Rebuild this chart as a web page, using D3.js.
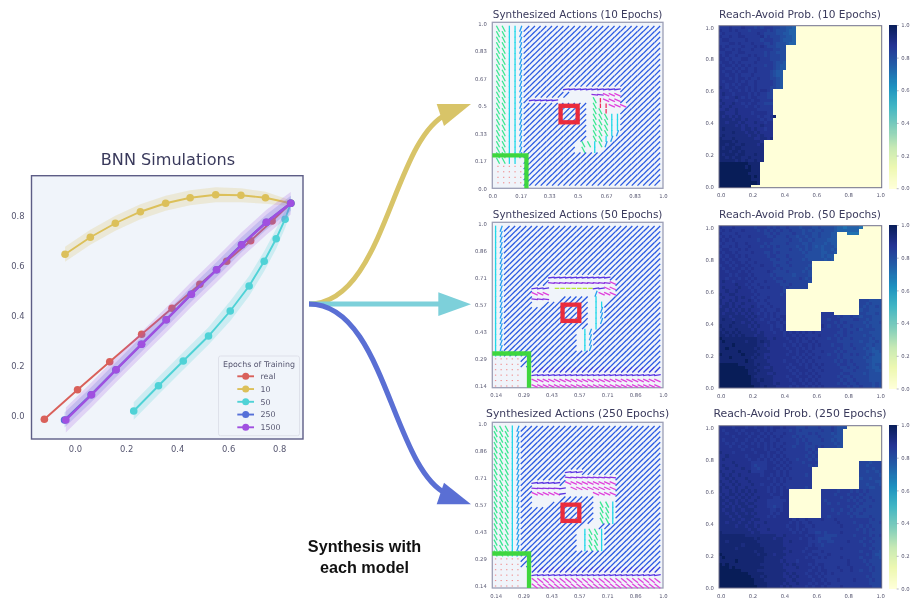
<!DOCTYPE html>
<html><head><meta charset="utf-8">
<script src="https://cdn.jsdelivr.net/npm/d3@7"></script>
<style>html,body{margin:0;padding:0;background:#fff}svg{display:block;filter:blur(0.35px)}text{font-family:"DejaVu Sans",sans-serif}</style>
</head><body><svg id="c" width="914" height="599"></svg>
<script>
// ---------- BNN simulations: x / y of each trajectory, half-width of its band
const simSeries = ["real","10","50","250","1500"];
const realX=[-0.12,0.01,0.136,0.261,0.38,0.489,0.594,0.688,0.772,0.845];
const realY=[-0.013,0.105,0.217,0.327,0.431,0.527,0.619,0.701,0.78,0.851];
const e10X=[-0.039,0.06,0.158,0.256,0.355,0.451,0.551,0.65,0.746,0.845];
const e10Y=[0.647,0.715,0.771,0.817,0.851,0.873,0.885,0.883,0.873,0.851];
const e10Band=[0.03,0.03,0.03,0.03,0.03,0.03,0.03,0.028,0.024,0.012];
const e50X=[0.23,0.327,0.424,0.523,0.608,0.682,0.741,0.788,0.823,0.845];
const e50Y=[0.02,0.121,0.22,0.32,0.42,0.52,0.619,0.709,0.787,0.851];
const e50Band=[0.035,0.035,0.035,0.035,0.04,0.04,0.04,0.04,0.035,0.03];
const e250X=[-0.041,0.063,0.16,0.26,0.357,0.455,0.554,0.652,0.749,0.845];
const e250Y=[-0.016,0.085,0.185,0.287,0.385,0.487,0.585,0.685,0.775,0.851];
const e250Band=[0.03,0.03,0.03,0.03,0.03,0.03,0.03,0.03,0.03,0.03];
const e1500X=[-0.036,0.065,0.161,0.261,0.358,0.456,0.555,0.653,0.75,0.845];
const e1500Y=[-0.016,0.085,0.185,0.287,0.385,0.487,0.585,0.685,0.775,0.851];
const e1500Band=[0.05,0.05,0.05,0.05,0.05,0.05,0.05,0.05,0.05,0.045];
const simXTicks=[0,0.2,0.4,0.6,0.8];
const simYTicks=[0,0.2,0.4,0.6,0.8];
const cbTicks=[0,0.2,0.4,0.6,0.8,1];
const heatTicks=[0,0.2,0.4,0.6,0.8,1];
const act10Ticks=["0.0","0.17","0.33","0.5","0.67","0.83","1.0"];
const actTicks=["0.14","0.29","0.43","0.57","0.71","0.86","1.0"];
const epochs=[10,50,250];

// ---------- Synthesized actions. Run-length rows, top to bottom; each letter is one action class.
const actions10=[
"2g2c1t24b","2g2c1t24b","2g2c1t24b","2g2c1t24b","2g2c1t24b","2g2c1t24b","2g2c1t24b","2g2c1t24b","2g2c1t24b","2g2c1t24b","2g2c1t24b",
"2g2c1t7b10p7b",
"2g2c1t8b4.2v3m7b",
"2g2c1t1b5p6.1g1r3m7b",
"2g2c1t11b1.1g2r3m6b",
"2g2c1t11b1.2g1r2.7b",
"2g2c1t11b1.3g2c7b",
"2g2c1t11b1.3g2c7b",
"2g2c1t11b1.3g2c7b",
"2g2c1t11b1.3g1c1t7b",
"2g2c1t11b1.2g1c1t8b",
"2g2c1t9b1.2g1c1g1t9b",
"2g2c1t9b1.1g1.1c1.10b",
"2g2c1t24b",
"2g2c1.24b",
"5d24b","5d24b","5d24b","5d24b"];
const actions50=[
"1c1t28b","1c1t28b","1c1t28b","1c1t28b","1c1t28b","1c1t28b","1c1t28b","1c1t28b","1c1t28b",
"1c1t8b11p9b",
"1c1t8b11v1m8b",
"1c1t5b3p1.7y2p2m8b",
"1c1t5b3m8.1t3m8b",
"1c1t5b3v2.5b1.1c2.9b",
"1c1t5b2.8b1.2c10b",
"1c1t15b1.1c1t10b",
"1c1t15b1.1c1t10b",
"1c1t15b1.1c1t10b",
"1c1t15b1.1c11b",
"1c1t13b1.1c1t12b",
"1c1t13b1.1c1t12b",
"1c1t13b1.1c1t12b",
"1c1t13b1.1c1t12b",
"1c1t28b",
"5d25b","5d25b",
"5d2.23B","5d2.23p","5d2.23m","5d2.23m"];
const actions250=[
"3g1c1t25b","3g1c1t25b","3g1c1t25b","3g1c1t25b","3g1c1t25b","3g1c1t25b","3g1c1t25b","3g1c1t25b",
"3g1c1t8b3p14b",
"3g1c1t8b9v8b",
"3g1c1t2b5p1b9m8b",
"3g1c1t2b5v1p1.8m8b",
"3g1c1t2b5m1p5.4m8b",
"3g1c1t2b5.6b4.8b",
"3g1c1t2b3.8b1.2g1c8b",
"3g1c1t13b1.2g1c8b",
"3g1c1t13b1.2g1c8b",
"3g1c1t13b1.2g1c8b",
"3g1c1t11b3.11b",
"3g1c1t10b1.1c2g1c10b",
"3g1c1t10b1.1c2g1c10b",
"3g1c1t10b1.1c2g1c10b",
"3g1c1t10b1.1c2g1c10b",
"3g1c1t25b",
"5d25b","5d25b",
"5d2.23B","5d2.23p","5d2.23n","5d2.23n"];
// Direction (degrees) of each action class.
const actionAngles={b:45,B:45,t:70,c:90,g:-62,p:8,v:-6,m:-24,n:-38,y:0,r:90,d:0};

// ---------- Reach-avoid probability. '.' = 0 (and short rows are 0 beyond their end);
// each digit is one level of reachLevels
const reachLevels=[0.70,0.74,0.77,0.80,0.83,0.86,0.89,0.92,0.95,1.0];
const reach10=[
"5556555655 5454555443 3221","6556565554 5555545433 3211","5655556555 5565444433 2211","6556556655 5556454443 3221","5665555565 5554555443 2221","5556656555 6555445433 3211",
"6565555655 5656544433 3","6655656555 6555555443 3","5566556655 5555454433 3","6565565556 5655454443 3","6656555665 5565554443 3","5665656555 5655555433 2","6566565656 5555455432 2","6655656565 5655555432 2",
"6566565665 5655554322","6656656555 6555554322","6665656656 5565554432","6566656565 5655555432","6656565665 5655555432","7656656656 5655554432",
"6665665656 5656654","6766566665 6565544","6656676565 6655544","7666656666 5665555","6766766565 6655444","7667666656 6565555","6676676666 6655555","7766676666 5666655",
"7676767666 66565568",
"7777677676 6665655","7767776766 6766566","7777767676 6667666","7877777677 6766566","7777877767 7676666","7877777776 7767666","8777877777 7667767",
"8888787777 7776","8878877877 7767","8788788777 7777","8887887877 7777","8788878877 7877","8878788778 7777","8888878787 7877",
"9999999998 888","9999999989 888","9999999999 888","9999999998 888","9999999999 898","9999999999 888","9999999999 998",
"9999999999"];
const reach50=[
"6555655555 5455545454 4544434443 3433332110 11110..... .",
"5656555655 5545454545 4454443434 3343332111 1111...... .",
"6555565555 5555445454 4445443443 3433322... 0000...... .",
"5656556556 5555544544 4544344343 3433322... .......... .",
"6565655555 5545555444 4454434434 3333222... .......... .",
"5655565565 5555454444 4544443343 3332322... .......... .",
"6556565556 5554545454 4444344343 2323332... .......... .",
"5665556565 5555555444 4454434343 3323323... .......... .",
"6566565555 6555445454 4444443433 3322332... .......... .",
"5656656565 5555545544 4544444333 332322.... .......... .",
"6565665556 5555554454 4454443433 333232.... .......... .",
"6656566565 5655555444 454444444. .......... .......... .",
"5665656656 5556555454 445444443. .......... .......... .",
"6566566565 6555555545 444444434. .......... .......... .",
"6656665656 5555565444 454444343. .......... .......... .",
"6665656665 6555554544 444344443. .......... .......... .",
"6656665656 5655555455 444445434. .......... .......... .",
"6766566665 6555655544 544444443. .......... .......... .",
"6666676656 5565555554 44544444.. .......... .......... .",
"6766667665 6556565555 45444444.. .......... .......... .",
"6676676666 5655555555 4......... .......... .......... .",
"7667766666 6565555554 5......... .......... .......... .",
"6766676766 5655565555 5......... .......... .......... .",
"7667676667 6565655555 5......... .......... ....444333 3",
"7676766766 6655565555 5......... .......... ....443433 3",
"6776767666 7656556555 5......... .......... ....434334 3",
"7767676767 6665655565 5......... .......... ....344333 3",
"7677767676 7656565655 5......... ..5555.... ....443334 3",
"7776777767 6766565656 6......... ..55555454 4544344433 3",
"7877677776 7665665565 6......... ..55455544 4455443433 3",
"7777877677 6766656656 5......... ..55554545 4444434333 4",
"8778777776 7676665655 6......... ..65455454 4544443433 3",
"7877787777 6766665665 6......... ..55555545 4445344443 3",
"8787878777 7767666566 5656565656 5555555445 4544444333 3",
"8878787877 7677666666 5665656555 5655554545 4444434433 3",
"9888888888 8877766766 6566565656 5555455454 4544444343 3",
"8988888878 8878776666 6656565565 6555555444 4444344334 3",
"8888988888 8877676666 5665656656 5655545554 4544443343 3",
"8898888888 8787766666 6566565656 5555555454 4454434323 3",
"8888889888 8877776666 6656566565 5565554545 4444443322 3",
"9888888988 8787666666 6566565656 5555455454 4545443432 2",
"8889888888 7877676666 6665656565 5655555454 4444434322 2",
"8888888898 8777766666 5666565656 5555554545 4544443322 2",
"9999998888 8787776666 6656656565 6565555455 4454444323 3",
"9999999988 8877667666 6565666565 5655555544 5445443322 3",
"9999999998 8787777666 6656566656 5565555554 4454444332 2",
"9999999998 8877766766 6665656565 6555555545 5444434333 3",
"9999999999 8777777666 6566566656 5655555454 4544444333 3",
"9999999999 8878777666 6656656565 6555555545 4454444333 3",
"9999999999 8887777676 6665665656 5655555454 5445444434 3",
"9999999999 9887877766 6656566565 6565555555 4544544434 3"];
const reach250=[
"6666566656 6566565665 6555444544 4544454333 .......... .",
"6566656566 6656565655 5545454444 445445433. .......... .",
"6656665656 5665656555 6555444454 544443433. .......... .",
"6666566665 6656565656 5554545444 454444333. .......... .",
"6566656656 6565665565 5555454544 445443433. .......... .",
"6656566566 5656565655 6555455454 444444343. .......... .",
"6665665656 6656565656 5554555444 545444433. .......... .",
"6666666566 5666565565 6555555454 5......... .......... .",
"7666566666 6566656656 5555555545 4......... .......... .",
"6676666656 6665656565 6555555454 5......... .......... .",
"6766666665 6656565656 5655455545 4......... .......... .",
"6666766666 5555566565 6565554555 5......... ....444344 4",
"6766676666 5455566656 5655555545 4......... ....443444 4",
"6676666766 5545566565 656555555. .......... ....444434 4",
"7666766667 5555666656 565555555. .......... ....443443 4",
"6767667666 6665665656 565555545. .......... ....444444 3",
"6676766676 6666656565 656555555. .......... ....344344 4",
"7667676667 6666666565 655555555. .......... ....444443 3",
"6766767666 7665665656 555555555. .......... ....443444 3",
"7676676676 6666656565 655555545. .......... ....444334 4",
"7667676767 6766656565 66........ ..55555455 5454545444 4",
"6767767676 7666665665 66........ ..55554555 4555454444 4",
"7676676767 6676666556 66........ ..55555545 5454544544 4",
"7767767676 6766655555 56........ ..54555555 4545454454 4",
"7676767767 7666655555 66........ ..55455455 5554544444 4",
"7767676776 6766655455 66........ ..55555555 4545444544 4",
"7677677677 7666665565 66........ ..55545545 5454454444 4",
"7767767767 6766665656 66........ ..55555455 4544544444 4",
"7776776777 7666656566 66........ ..55455555 5454444544 4",
"7777677677 6776666666 6665655655 5565556555 5555555454 4",
"7767776776 7666766666 6656565565 5555555655 5545555444 5",
"7777767767 7676666666 6566566556 5555555565 5555454544 4",
"7777777776 7766676666 6656565655 5555555555 5554545454 4",
"8777777777 6776666666 6665656655 4454555565 5555545444 4",
"8888888877 7777777766 7666666566 5554444555 5545555454 5",
"8888888888 8787777677 6666656656 5444455555 5555545544 4",
"8878888888 8877777777 6676666655 5455445555 6555455454 4",
"8888888788 8887777777 6666666656 5545555555 5555545544 4",
"8888878888 8888777777 7666666566 6555555565 5555555454 4",
"8888888888 8788777777 6676665665 5565555555 5555455544 3",
"9888888888 8878877677 7666666656 6555655555 5555554543 3",
"8988888888 8888777777 6666666565 5656555565 5555455544 3",
"8888898888 8888777776 7666566666 5555555555 6555545444 4",
"9898888888 8887777777 6767666656 5665555555 6555554544 4",
"9998988888 8888777777 6666766665 6565555655 5655555454 4",
"9999999888 8877777777 7666666656 6566555565 5655455454 4",
"9999999998 8888777777 6767666566 5656565555 5555555544 4",
"9999999999 8887877777 6676766656 6565555555 5555554544 4",
"9999999999 9888777777 7667666665 6656555655 5565555454 4",
"9999999999 9888877777 6766766656 5665655555 5555555444 4",
"9999999999 9988877776 7676666565 6656555565 5555555544 4"];

// ---------- styles & layout
const INK="#3a3a5c", TICK="#565670", PANEL="#f0f4fa";
const simColor={real:"#d9605a","10":"#dcc05a","50":"#4fd2d6","250":"#5670d8","1500":"#a050e0"};
const actionColor={b:"#2a5ae2",B:"#2f3ce2",t:"#249ef0",c:"#20d8e8",g:"#38e890",p:"#5a34e2",v:"#8a30e0",m:"#e040dc",n:"#e040dc",y:"#b8e838",r:"#f0305c",d:"#f07878"};
const actionLen={b:7.9,B:7.9,t:6.4,c:6.2,g:6.8,p:6.6,v:6.6,m:6.8,n:7.4,y:4.5,r:4.5,d:1.3};
const svg=d3.select("#c");
const decodeRuns=r=>{let out="";for(const m of r.matchAll(/(\d+)([A-Za-z.])/g))out+=m[2].repeat(+m[1]);return out;};
const decodeReach=r=>{const s=r.replace(/ /g,"").padEnd(51,".");return Array.from(s,c=>c==="."?0:reachLevels[+c]);};

function noDomain(g){g.select(".domain").remove();g.selectAll("line").remove();}
function axisStyle(g,size){g.attr("font-family",null).attr("font-size",null);g.selectAll("text").attr("fill",TICK).style("font-size",size+"px");noDomain(g);}

// ---------- left chart
(function(){
 const L=31.5,R=303,T=175.7,B=439;
 const x=d3.scaleLinear().domain([-0.17,0.895]).range([31.6,303.5]);
 const y=d3.scaleLinear().domain([0,0.8]).range([416,216]);
 svg.append("rect").attr("x",L).attr("y",T).attr("width",R-L).attr("height",B-T).attr("fill",PANEL).attr("stroke","#5d5d86").attr("stroke-width",1.4);
 svg.append("text").attr("x",168).attr("y",164.5).attr("text-anchor","middle").attr("fill",INK).style("font-size","16.1px").text("BNN Simulations");
 svg.append("g").attr("transform",`translate(0,${B})`).call(d3.axisBottom(x).tickValues(simXTicks).tickSize(0).tickPadding(7).tickFormat(d3.format(".1f"))).call(axisStyle,8.4);
 svg.append("g").attr("transform",`translate(${L},0)`).call(d3.axisLeft(y).tickValues(simYTicks).tickSize(0).tickPadding(7).tickFormat(d3.format(".1f"))).call(axisStyle,8.4);
 const data={real:[realX,realY,null],"10":[e10X,e10Y,e10Band],"50":[e50X,e50Y,e50Band],"250":[e250X,e250Y,e250Band],"1500":[e1500X,e1500Y,e1500Band]};
 const line=d3.line().x(d=>x(d.x)).y(d=>y(d.y));
 const area=d3.area().x(d=>x(d.x)).y0(d=>y(d.y-d.b)).y1(d=>y(d.y+d.b));
 simSeries.forEach(name=>{
  const [xs,ys,bs]=data[name];
  const pts=xs.map((v,i)=>({x:v,y:ys[i],b:bs?bs[i]:0}));
  if(bs)svg.append("path").attr("d",area(pts)).attr("fill",simColor[name]).attr("opacity",name==="1500"?0.2:0.22);
  svg.append("path").attr("d",line(pts)).attr("fill","none").attr("stroke",simColor[name]).attr("stroke-width",name==="1500"||name==="250"?2.4:1.9);
  svg.append("g").selectAll("circle").data(pts).join("circle").attr("cx",d=>x(d.x)).attr("cy",d=>y(d.y)).attr("r",3.8).attr("fill",simColor[name]);
 });
 // legend
 const lg=svg.append("g");
 lg.append("rect").attr("x",218.5).attr("y",356).attr("width",81).attr("height",79.7).attr("rx",2).attr("fill",PANEL).attr("stroke","#d9dce6").attr("stroke-width",0.8);
 lg.append("text").attr("x",259).attr("y",366.8).attr("text-anchor","middle").attr("fill",TICK).style("font-size","7.9px").text("Epochs of Training");
 const ly=d3.scalePoint().domain(simSeries).range([376.3,427.3]);
 simSeries.forEach(name=>{
  lg.append("line").attr("x1",237.3).attr("x2",254).attr("y1",ly(name)).attr("y2",ly(name)).attr("stroke",simColor[name]).attr("stroke-width",1.9);
  lg.append("circle").attr("cx",245.7).attr("cy",ly(name)).attr("r",3.5).attr("fill",simColor[name]);
  lg.append("text").attr("x",260.5).attr("y",ly(name)+2.8).attr("fill",TICK).style("font-size","7.9px").text(name);
 });
})();

// ---------- flow arrows
(function(){
 const o=[309,304];
 const flows=[
  {c:"#d8c468",w:5,cp:[[385,304],[392,140],[447,114]],head:[[471,104],[436.7,104],[444,126]]},
  {c:"#7dd0da",w:5,cp:[[350,304],[400,304],[442,304]],head:[[471,304.3],[438.3,292.3],[438.3,316]]},
  {c:"#5a6fd4",w:5.2,cp:[[385,304],[392,468],[447,494]],head:[[471,504.3],[436.7,504.3],[444,482.7]]}];
 flows.forEach(f=>{
  const p=d3.path();p.moveTo(...o);p.bezierCurveTo(...f.cp[0],...f.cp[1],...f.cp[2]);
  svg.append("path").attr("d",p.toString()).attr("fill","none").attr("stroke",f.c).attr("stroke-width",f.w);
  svg.append("path").attr("d",d3.line()(f.head)+"Z").attr("fill",f.c);
 });
 const t=svg.append("text").attr("text-anchor","middle").attr("fill","#111").style("font-family","Liberation Sans").style("font-weight","700").style("font-size","16.2px");
 t.append("tspan").attr("x",364.5).attr("y",552).text("Synthesis with");
 t.append("tspan").attr("x",364.5).attr("y",573).text("each model");
})();

// ---------- quiver panels
const quiverPanels=[
 {title:"Synthesized Actions (10 Epochs)",fs:10.4,ty:17.7,T:22.3,B:188.3,grid:actions10,lo:0,start:1/30,step:1/30,ticks:act10Ticks,tv:[0,1/6,2/6,3/6,4/6,5/6,1],goal:[0.4,0.5],safe:0.2,y0:188.3,y1:23.3},
 {title:"Synthesized Actions (50 Epochs)",fs:10.4,ty:217.7,T:222.3,B:387.7,grid:actions50,lo:0.126,start:1/7,step:1/35,ticks:actTicks,tv:[1,2,3,4,5,6,7].map(k=>k/7),goal:[3.4/7,4/7],safe:0.314,y0:386,y1:223.3},
 {title:"Synthesized Actions (250 Epochs)",fs:10.8,ty:417.3,T:422.3,B:588,grid:actions250,lo:0.126,start:1/7,step:1/35,ticks:actTicks,tv:[1,2,3,4,5,6,7].map(k=>k/7),goal:[3.4/7,4/7],safe:0.314,y0:586,y1:423.3}];
quiverPanels.forEach(P=>{
 const L=492.3,R=663;
 const x=d3.scaleLinear().domain([P.lo,1]).range([L,R]);
 const y=d3.scaleLinear().domain([P.tv[0],1]).range([P.y0,P.y1]);
 svg.append("rect").attr("x",L).attr("y",P.T).attr("width",R-L).attr("height",P.B-P.T).attr("fill",PANEL).attr("stroke","#9c9fb6").attr("stroke-width",1.3);
 svg.append("text").attr("x",577.6).attr("y",P.ty).attr("text-anchor","middle").attr("fill",INK).style("font-size",P.fs+"px").text(P.title);
 const cells=[];
 P.grid.forEach((row,j)=>{
  const n=P.grid.length;
  Array.from(decodeRuns(row)).forEach((k,i)=>{ if(k!==".")cells.push({k,vx:P.start+i*P.step,vy:P.start+(n-1-j)*P.step}); });
 });
 const g=svg.append("g");
 g.selectAll("line").data(cells).join("line")
  .each(function(d){
    const a=actionAngles[d.k]*Math.PI/180,h=actionLen[d.k]/2,cx=x(d.vx),cy=y(d.vy);
    d3.select(this).attr("x1",cx-h*Math.cos(a)).attr("x2",cx+h*Math.cos(a)).attr("y1",cy+h*Math.sin(a)).attr("y2",cy-h*Math.sin(a));
  })
  .attr("stroke",d=>actionColor[d.k]).attr("stroke-width",d=>d.k==="d"?0.9:1.3);
 const xa=d3.axisBottom(x).tickValues(P.tv).tickSize(0).tickPadding(6).tickFormat((d,i)=>P.ticks[i]);
 const ya=d3.axisLeft(y).tickValues(P.tv).tickSize(0).tickPadding(5.5).tickFormat((d,i)=>P.ticks[i]);
 svg.append("g").attr("transform",`translate(0,${P.B})`).call(xa).call(axisStyle,5.3);
 svg.append("g").attr("transform",`translate(${L},0)`).call(ya).call(axisStyle,5.3);
 // goal and safe-set outlines
 svg.append("rect").attr("x",x(P.goal[0])).attr("y",y(P.goal[1])).attr("width",x(P.goal[1])-x(P.goal[0])).attr("height",y(P.goal[0])-y(P.goal[1])).attr("fill","none").attr("stroke","#ea2b3c").attr("stroke-width",4.3);
 svg.append("path").attr("d",d3.line()([[L,y(P.safe)],[x(P.safe),y(P.safe)],[x(P.safe),P.B]])).attr("fill","none").attr("stroke","#3ed63e").attr("stroke-width",4.3);
});

// ---------- reach-avoid panels (matplotlib's YlGnBu stops through a d3 scale)
const ylgnbu=["#ffffd9","#edf8b1","#c7e9b4","#7fcdbb","#41b6c4","#1d91c0","#225ea8","#253494","#081d58"];
const heatColor=d3.scaleLinear().domain(d3.range(9).map(i=>i/8)).range(ylgnbu);
const heatPanels=[
 {title:"Reach-Avoid Prob. (10 Epochs)",fs:10.6,ty:17.7,T:25.7,B:187.7,rows:reach10},
 {title:"Reach-Avoid Prob. (50 Epochs)",fs:10.6,ty:217.7,T:225.7,B:388,rows:reach50},
 {title:"Reach-Avoid Prob. (250 Epochs)",fs:10.9,ty:417.3,T:425.7,B:588,rows:reach250}];
heatPanels.forEach(P=>{
 const L=719,R=881.7;
 const idx=d3.range(51);
 const bx=d3.scaleBand().domain(idx).range([L,R]);
 const by=d3.scaleBand().domain(idx).range([P.T,P.B]);
 const vals=P.rows.flatMap((r,j)=>decodeReach(r).slice(0,51).map((v,i)=>({i,j,v})));
 svg.append("g").attr("shape-rendering","crispEdges").selectAll("rect").data(vals).join("rect")
  .attr("x",d=>bx(d.i)).attr("y",d=>by(d.j)).attr("width",bx.bandwidth()+0.4).attr("height",by.bandwidth()+0.4).attr("fill",d=>heatColor(d.v));
 svg.append("rect").attr("x",L).attr("y",P.T).attr("width",R-L).attr("height",P.B-P.T).attr("fill","none").attr("stroke","#70708a").attr("stroke-width",1);
 svg.append("text").attr("x",800).attr("y",P.ty).attr("text-anchor","middle").attr("fill",INK).style("font-size",P.fs+"px").text(P.title);
 const x=d3.scaleLinear().domain([0,1]).range([L+1.6,R-1.6]);
 const y=d3.scaleLinear().domain([0,1]).range([P.B-0.7,P.T+1.6]);
 svg.append("g").attr("transform",`translate(0,${P.B})`).call(d3.axisBottom(x).tickValues(heatTicks).tickSize(0).tickPadding(6).tickFormat(d3.format(".1f"))).call(axisStyle,5.3);
 svg.append("g").attr("transform",`translate(${L},0)`).call(d3.axisLeft(y).tickValues(heatTicks).tickSize(0).tickPadding(5).tickFormat(d3.format(".1f"))).call(axisStyle,5.3);
 // colour bar
 const cb=d3.scaleLinear().domain([0,1]).range([P.B+0.5,P.T-0.7]);
 const steps=d3.range(0,1,1/160);
 svg.append("g").attr("shape-rendering","crispEdges").selectAll("rect").data(steps).join("rect")
  .attr("x",889.3).attr("width",7.4).attr("y",d=>cb(d+1/160)).attr("height",d=>cb(d)-cb(d+1/160)+0.4).attr("fill",d=>heatColor(d));
 const ca=svg.append("g").attr("transform","translate(896.7,0)").call(d3.axisRight(cb).tickValues(cbTicks).tickSize(2).tickPadding(2.5).tickFormat(d3.format(".1f")));
 ca.select(".domain").remove();
 ca.selectAll("line").attr("stroke","#8a8aa0").attr("stroke-width",0.6);
 ca.attr("font-family",null).attr("font-size",null);
 ca.selectAll("text").attr("fill",TICK).style("font-size","5.3px");
});
</script></body></html>
